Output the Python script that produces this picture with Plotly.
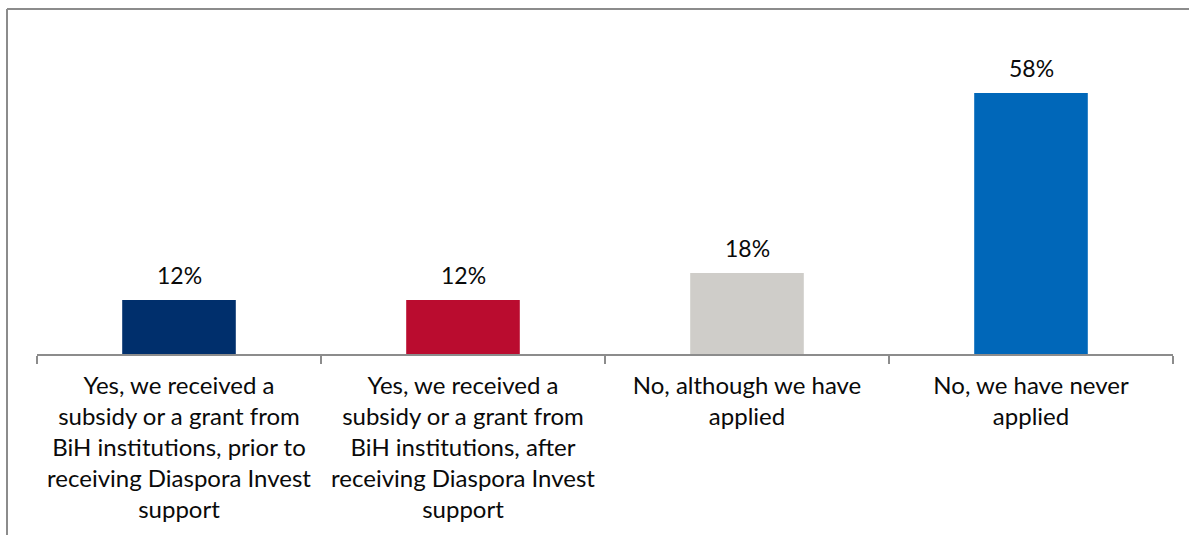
import plotly.graph_objects as go

# Survey responses: subsidies/grants from BiH institutions
categories = [
    "Yes, we received a<br>subsidy or a grant from<br>BiH institutions, prior to<br>receiving Diaspora Invest<br>support",
    "Yes, we received a<br>subsidy or a grant from<br>BiH institutions, after<br>receiving Diaspora Invest<br>support",
    "No, although we have<br>applied",
    "No, we have never<br>applied",
]
shares = [12, 12, 18, 58]
bar_colors = ["#002F6C", "#BA0C2F", "#CFCDC9", "#0067B9"]

W, H = 1189, 535
plot_left, plot_right = 37, 1173
plot_top, plot_bottom = 30, 354
pw = plot_right - plot_left
ph = plot_bottom - plot_top

font_family = "Lato, 'Open Sans', sans-serif"
text_color = "#0a0a0a"

fig = go.Figure(
    go.Bar(
        x=categories,
        y=shares,
        marker=dict(color=bar_colors, line=dict(width=0)),
        width=0.4,
        hoverinfo="skip",
    )
)

# value labels above each bar
for cat, v in zip(categories, shares):
    fig.add_annotation(
        x=cat, y=v, xref="x", yref="y",
        text=f"{v}%",
        showarrow=False,
        yanchor="bottom",
        yshift=9,
        font=dict(family=font_family, size=23, color=text_color),
    )

def px_x(p):
    return (p - plot_left) / pw

def px_y(p):
    return (plot_bottom - p) / ph

frame_color = "#8c8c8c"
fig.add_shape(type="line", xref="paper", yref="paper",
              x0=px_x(7), x1=px_x(7), y0=px_y(9), y1=px_y(H + 5),
              line=dict(color=frame_color, width=2))
fig.add_shape(type="line", xref="paper", yref="paper",
              x0=px_x(7), x1=px_x(W + 5), y0=px_y(9), y1=px_y(9),
              line=dict(color=frame_color, width=2))

fig.update_layout(
    width=W,
    height=H,
    margin=dict(l=plot_left, r=W - plot_right, t=plot_top, b=H - plot_bottom, pad=0),
    paper_bgcolor="white",
    plot_bgcolor="white",
    showlegend=False,
    font=dict(family=font_family, size=24, color=text_color),
    xaxis=dict(
        type="category",
        range=[-0.5, 3.5],
        tickson="boundaries",
        ticks="outside",
        ticklen=8,
        tickcolor="#8c8c8c",
        tickwidth=1.5,
        showline=True,
        linecolor="#8c8c8c",
        linewidth=1.5,
        showgrid=False,
        ticklabelstandoff=9,
        tickfont=dict(family=font_family, size=24, color=text_color),
    ),
    yaxis=dict(
        range=[0, ph / 4.5],
        visible=False,
        showgrid=False,
        zeroline=False,
    ),
)

fig.write_html("out.html")
